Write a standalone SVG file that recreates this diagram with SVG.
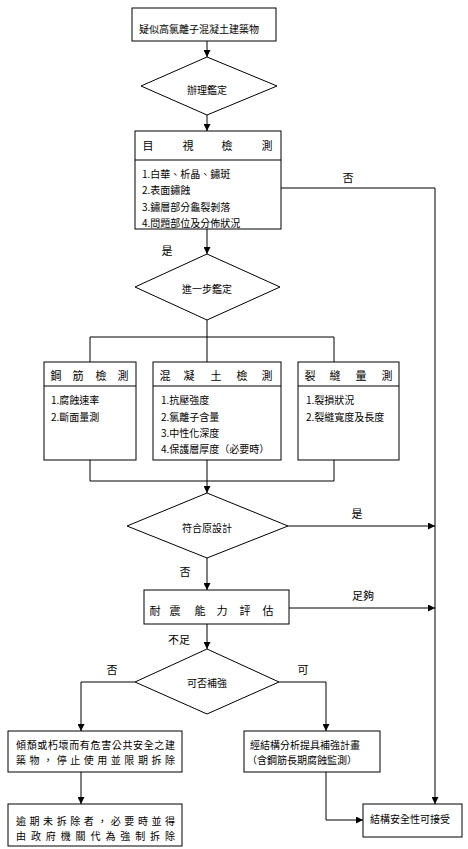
<svg xmlns="http://www.w3.org/2000/svg" width="468" height="849" viewBox="0 0 468 849">
<style>
.box{fill:#fff;stroke:#000;stroke-width:1}
.ln{fill:none;stroke:#000;stroke-width:1}
text{font-family:"Noto Sans CJK TC","Noto Sans CJK SC",sans-serif;font-size:10px;fill:#000;dominant-baseline:central}
.c{text-anchor:middle}
.h{font-size:11px;text-anchor:middle}
.lab{font-size:11px;text-anchor:middle}
</style>
<defs>
<marker id="arr" viewBox="0 0 8 8" refX="8" refY="4" markerWidth="7" markerHeight="7" markerUnits="userSpaceOnUse" orient="auto">
<path d="M0,0 L8,4 L0,8 z" fill="#000"/>
</marker>
</defs>
<rect width="468" height="849" fill="#fff"/>
<g id="connectors">
<path class="ln" d="M207,41 V57" marker-end="url(#arr)"/>
<path class="ln" d="M207,115 V131" marker-end="url(#arr)"/>
<path class="ln" d="M207,229 V254" marker-end="url(#arr)"/>
<path class="ln" d="M281,188 H435 V804" marker-end="url(#arr)"/>
<path class="ln" d="M207,320 V362 M90,337 H334 M90,337 V362 M334,337 V362"/>
<path class="ln" d="M90,460 V481 H334 V460"/>
<path class="ln" d="M207,460 V493" marker-end="url(#arr)"/>
<path class="ln" d="M288,526 H435" marker-end="url(#arr)"/>
<path class="ln" d="M207,558 V590" marker-end="url(#arr)"/>
<path class="ln" d="M289,608 H435" marker-end="url(#arr)"/>
<path class="ln" d="M207,624 V649" marker-end="url(#arr)"/>
<path class="ln" d="M135,682 H81 V731" marker-end="url(#arr)"/>
<path class="ln" d="M279,682 H326 V731" marker-end="url(#arr)"/>
<path class="ln" d="M81,772 V804" marker-end="url(#arr)"/>
<path class="ln" d="M326,772 V820 H363" marker-end="url(#arr)"/>
<text class="lab" x="348" y="177">否</text>
<text class="lab" x="167" y="250">是</text>
<text class="lab" x="357" y="513">是</text>
<text class="lab" x="185" y="571">否</text>
<text class="lab" x="363" y="595">足夠</text>
<text class="lab" x="179" y="639">不足</text>
<text class="lab" x="112" y="669">否</text>
<text class="lab" x="303" y="669">可</text>
</g>
<g id="n-start">
<rect class="box" x="132" y="8" width="144" height="33"/>
<text x="139" y="28">疑似高氯離子混凝土建築物</text>
</g>
<g id="n-identify">
<polygon class="box" points="207,57 277,86 207,115 141,86"/>
<text class="c" x="207" y="89">辦理鑑定</text>
</g>
<g id="n-visual">
<rect class="box" x="135" y="131" width="146" height="98"/>
<line class="ln" x1="135" y1="160" x2="281" y2="160"/>
<text class="h" x="148 188 227 267" y="145">目視檢測</text>
<text x="142" y="173">1.白華、析晶、鏽斑</text>
<text x="142" y="189">2.表面鏽蝕</text>
<text x="142" y="206">3.鏽層部分龜裂剝落</text>
<text x="142" y="222">4.問題部位及分佈狀況</text>
</g>
<g id="n-further">
<polygon class="box" points="207,254 280,287 207,320 135,287"/>
<text class="c" x="207" y="288">進一步鑑定</text>
</g>
<g id="n-rebar">
<rect class="box" x="44" y="362" width="92" height="98"/>
<line class="ln" x1="44" y1="386" x2="136" y2="386"/>
<text class="h" x="56 78 101 123" y="375">鋼筋檢測</text>
<text x="51" y="399">1.腐蝕速率</text>
<text x="51" y="416">2.斷面量測</text>
</g>
<g id="n-concrete">
<rect class="box" x="153" y="362" width="128" height="98"/>
<line class="ln" x1="153" y1="386" x2="281" y2="386"/>
<text class="h" x="165 189 216 242 267" y="375">混凝土檢測</text>
<text x="161" y="399">1.抗壓強度</text>
<text x="161" y="416">2.氯離子含量</text>
<text x="161" y="432">3.中性化深度</text>
<text x="161" y="448">4.保護層厚度（必要時）</text>
</g>
<g id="n-crack">
<rect class="box" x="298" y="362" width="101" height="98"/>
<line class="ln" x1="298" y1="386" x2="399" y2="386"/>
<text class="h" x="310 335 361 387" y="375">裂縫量測</text>
<text x="306" y="399">1.裂損狀況</text>
<text x="306" y="416">2.裂縫寬度及長度</text>
</g>
<g id="n-design">
<polygon class="box" points="207,493 288,526 207,558 127,526"/>
<text class="c" x="207" y="527">符合原設計</text>
</g>
<g id="n-seismic">
<rect class="box" x="144" y="590" width="145" height="34"/>
<text class="h" x="155 175 200 222 245 268" y="610">耐震能力評估</text>
</g>
<g id="n-retrofit">
<polygon class="box" points="207,649 279,682 207,714 135,682"/>
<text class="c" x="207" y="682">可否補強</text>
</g>
<g id="n-demolish">
<rect class="box" x="8" y="731" width="174" height="41"/>
<text x="16" y="744" textLength="159" lengthAdjust="spacing">傾頹或朽壞而有危害公共安全之建</text>
<text x="16" y="759" textLength="159" lengthAdjust="spacing">築物，停止使用並限期拆除</text>
</g>
<g id="n-force">
<rect class="box" x="8" y="804" width="174" height="42"/>
<text x="16" y="820" textLength="159" lengthAdjust="spacing">逾期未拆除者，必要時並得</text>
<text x="16" y="835" textLength="159" lengthAdjust="spacing">由政府機關代為強制拆除</text>
</g>
<g id="n-plan">
<rect class="box" x="244" y="731" width="136" height="41"/>
<text x="250" y="744">經結構分析提具補強計畫</text>
<text x="247" y="759">（含鋼筋長期腐蝕監測）</text>
</g>
<g id="n-accept">
<rect class="box" x="363" y="804" width="99" height="33"/>
<text x="370" y="818">結構安全性可接受</text>
</g>
</svg>
